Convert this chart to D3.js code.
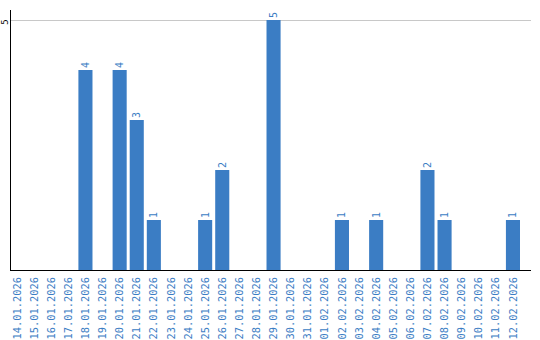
<!doctype html>
<html>
<head>
<meta charset="UTF-8">
<title>chart</title>
<script src="https://d3js.org/d3.v7.min.js"></script>
<style>
  body { margin: 0; background: #fff; }
  text { font-family: "DejaVu Sans Mono", monospace; }
</style>
</head>
<body>
<svg width="540" height="340"></svg>
<script>
    var dates = ["14.01.2026","15.01.2026","16.01.2026","17.01.2026","18.01.2026","19.01.2026",
                 "20.01.2026","21.01.2026","22.01.2026","23.01.2026","24.01.2026","25.01.2026",
                 "26.01.2026","27.01.2026","28.01.2026","29.01.2026","30.01.2026","31.01.2026",
                 "01.02.2026","02.02.2026","03.02.2026","04.02.2026","05.02.2026","06.02.2026",
                 "07.02.2026","08.02.2026","09.02.2026","10.02.2026","11.02.2026","12.02.2026"];
    var counts = [0,0,0,0,4,0,4,3,1,0,0,1,2,0,0,5,0,0,0,1,0,1,0,0,2,1,0,0,0,1];
    var yTicks = [5];

    var svg = d3.select("svg");
    var padL = 10, padR = 531, padT = 20, base = 270;
    var blue = "#3b7dc4";

    var x = d3.scaleBand().domain(dates).range([padL, padL + 17 * dates.length])
              .paddingInner(3 / 17).paddingOuter(0).align(0);
    var y = d3.scaleLinear().domain([0, 5]).range([base, padT]);

    // grid line
    svg.selectAll("line.grid").data(yTicks).enter().append("line")
       .attr("class", "grid")
       .attr("x1", padL + 1).attr("x2", padR)
       .attr("y1", function(d){ return y(d) + 0.5; })
       .attr("y2", function(d){ return y(d) + 0.5; })
       .attr("stroke", "#c8c8c8").attr("stroke-width", 1);

    // bars
    var data = dates.map(function(d, i){ return {date: d, v: counts[i]}; });
    var nz = data.filter(function(d){ return d.v > 0; });
    svg.selectAll("rect").data(nz).enter().append("rect")
       .attr("x", function(d){ return x(d.date); })
       .attr("y", function(d){ return y(d.v); })
       .attr("width", x.bandwidth())
       .attr("height", function(d){ return base - y(d.v); })
       .attr("fill", blue);

    // value labels
    svg.selectAll("text.val").data(nz).enter().append("text")
       .attr("class", "val")
       .attr("transform", function(d){
           return "translate(" + (x(d.date) + x.bandwidth() / 2) + "," + (y(d.v) - 2) + ") rotate(-90)";
       })
       .attr("dy", "0.35em")
       .attr("font-size", 10)
       .attr("fill", blue)
       .text(function(d){ return d.v; });

    // axes lines
    svg.append("line").attr("x1", padL + 0.5).attr("x2", padL + 0.5)
       .attr("y1", 10).attr("y2", base + 1).attr("stroke", "#000");
    svg.append("line").attr("x1", padL).attr("x2", padR)
       .attr("y1", base + 0.5).attr("y2", base + 0.5).attr("stroke", "#000");

    // x labels
    svg.selectAll("text.xl").data(dates).enter().append("text")
       .attr("class", "xl")
       .attr("transform", function(d){
           return "translate(" + (x(d) + x.bandwidth() / 2) + "," + (base + 7) + ") rotate(-90)";
       })
       .attr("text-anchor", "end")
       .attr("dy", "0.35em")
       .attr("font-size", 10.4)
       .attr("fill", blue)
       .text(function(d){ return d; });

    // y tick label
    svg.selectAll("text.yl").data(yTicks).enter().append("text")
       .attr("class", "yl")
       .attr("transform", function(d){ return "translate(5," + (y(d) + 2) + ") rotate(-90)"; })
       .attr("text-anchor", "middle")
       .attr("dy", "0.35em")
       .attr("font-size", 9)
       .attr("fill", "#000")
       .text(function(d){ return d; });
</script>
</body>
</html>
